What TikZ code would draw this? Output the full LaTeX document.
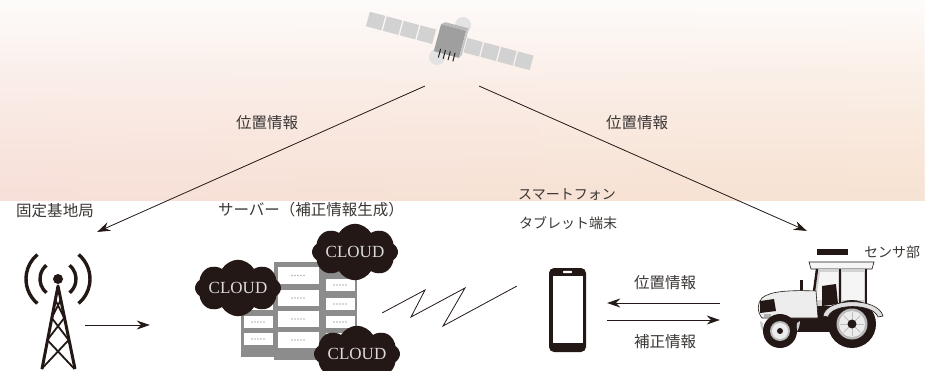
\documentclass[tikz,border=0pt]{standalone}
\usepackage{fontspec}
\setmainfont{Liberation Serif}
\newfontfamily\jpfont{Noto Sans CJK JP}
\usetikzlibrary{arrows.meta,shapes.symbols,fadings}
\definecolor{ink}{HTML}{231815}
\definecolor{txt}{HTML}{3A3634}
\definecolor{rackgray}{HTML}{8C8C8C}
\definecolor{panelgray}{HTML}{D2D2D2}
\definecolor{skytop}{HTML}{FEFCFB}
\definecolor{skylow}{HTML}{F9E7DE}
\definecolor{skypink}{HTML}{F6DAD4}
\definecolor{skypeach}{HTML}{F7E0C9}
\tikzfading[name=riseup, top color=transparent!100, bottom color=transparent!0]
\begin{document}
\begin{tikzpicture}[x=1pt,y=-1pt,
  lbl/.style={font=\jpfont\fontsize{15.5}{16}\selectfont, text=txt, inner sep=0pt},
  link/.style={draw=ink, line width=0.8pt, -{Stealth[length=13pt,width=9pt]}},
  plain/.style={draw=ink, line width=0.8pt},
  pt/.style={inner sep=0pt, minimum size=0pt},
  cloudbox/.style={cloud, cloud puffs=8, cloud puff arc=120, aspect=2.0, fill=ink, draw=none,
     inner sep=0pt, minimum width=86pt, minimum height=44pt, text=white!86!black,
     font=\fontsize{17}{17}\selectfont},
  slot/.style={fill=white, draw=none},
  tire/.style={fill=ink, draw=none},
]
\useasboundingbox (0,0) rectangle (925,371);

% sky band behind the satellite
\shade[top color=skytop, bottom color=skylow] (0,0) rectangle (925,201);
\shade[left color=skypink, right color=skypeach, path fading=riseup, opacity=0.55] (0,0) rectangle (925,201);

% satellite
\fill[gray!22] (463,25) circle (8);
\fill[gray!22] (437,57) circle (8);
\begin{scope}[shift={(450,41)}, rotate=-15]
  \foreach \i in {0,...,3} {
    \fill[panelgray] (-85+\i*17.5,-7.5) rectangle ++(16,15);
    \fill[panelgray] (16+\i*17.5,-7.5) rectangle ++(16,15);
  }
  \fill[gray!75] (-13,-14) rectangle (13,14);
  \fill[gray!55] (-13,-14) -- (-9,-17) -- (15,-17) -- (13,-14) -- cycle;
  \fill[gray!45] (13,-14) -- (15,-17) -- (15,11) -- (13,14) -- cycle;
  \foreach \x in {-7,-2,3,8} \draw[gray!30!black, line width=1pt] (\x,10) -- (\x,19);
\end{scope}

% points where the signal lines start and end
\node[pt] (satL) at (425,86) {};
\node[pt] (satR) at (479,86) {};
\node[pt] (baseIn) at (97,232) {};
\node[pt] (tracIn) at (807,231) {};
\draw[link] (satL) -- (baseIn);
\draw[link] (satR) -- (tracIn);
\node[lbl] (posL) at (267,123) {位置情報};
\node[lbl] (posR) at (637,123) {位置情報};

% labels
\node[lbl] (baseLbl) at (55,211) {固定基地局};
\node[lbl] (srvLbl) at (311,210) {サーバー（補正情報生成）};
\node[lbl, font=\jpfont\fontsize{14}{14}\selectfont] (smLbl) at (567,195) {スマートフォン};
\node[lbl, font=\jpfont\fontsize{14}{14}\selectfont] (tabLbl) at (568,223) {タブレット端末};

% base station tower
\fill[ink] (58,279) circle (5);
\foreach \r in {18,32} {
  \draw[ink, line width=3.4pt] (58,279) ++(130:\r) arc[start angle=130, end angle=230, radius=\r];
  \draw[ink, line width=3.4pt] (58,279) ++(-50:\r) arc[start angle=-50, end angle=50, radius=\r];
}
\draw[ink, line width=3pt, line join=round] (42,369) -- (58,286) -- (75,369);
\foreach \a/\b in {300/318, 318/340, 340/369} {
  \pgfmathsetmacro{\wa}{(\a-287)/82*16.5}
  \pgfmathsetmacro{\wb}{(\b-287)/82*16.5}
  \draw[ink, line width=1.8pt] (58-\wa,\a) -- (58+\wb,\b);
  \draw[ink, line width=1.8pt] (58+\wa,\a) -- (58-\wb,\b);
}
\node[pt] (towerOut) at (85,325) {};
\node[pt] (srvIn) at (150,325) {};
\draw[link] (towerOut) -- (srvIn);

% server racks
\fill[rackgray] (241,280) rectangle (277,357);
\fill[rackgray] (322,270) rectangle (357,356);
\foreach \y in {298,316,333} {
  \fill[slot] (244,\y) rectangle (273,\y+12);
  \foreach \k in {0,...,4} \fill[gray!60] (252+\k*3,\y+6) circle (0.8);
}
\foreach \y in {279,298,316,333} {
  \fill[slot] (326,\y) rectangle (355,\y+12);
  \foreach \k in {0,...,4} \fill[gray!60] (334+\k*3,\y+6) circle (0.8);
}
\fill[rackgray] (274,262) rectangle (323,360);
\foreach \y/\h in {267/17, 290/16, 311/16, 332/16} {
  \fill[slot] (278,\y) rectangle (319,\y+\h);
  \foreach \k in {0,...,4} \fill[gray!60] (292+\k*3,\y+\h/2) circle (0.8);
}
\node[cloudbox] (cloudA) at (355,252) {CLOUD};
\node[cloudbox, minimum height=47pt] (cloudB) at (238,288) {CLOUD};
\node[cloudbox] (cloudC) at (357,354) {CLOUD};

% radio link to the handset
\node[pt] (zigA) at (382,313) {};
\node[pt] (zigB) at (517,286) {};
\draw[plain, line join=miter] (zigA) -- (425,290) -- (411,317) -- (465,288) -- (443,326) -- (zigB);

% handset
\fill[ink, rounded corners=5pt] (549,268) rectangle (586,352);
\fill[white] (552.5,275.5) rectangle (583,343);
\fill[white, rounded corners=0.8pt] (563,270.8) rectangle (572,273.2);

% exchange between handset and tractor
\node[pt] (phR1) at (607,303) {};
\node[pt] (trL1) at (720,303) {};
\node[pt] (phR2) at (607,320) {};
\node[pt] (trL2) at (720,320) {};
\draw[link] (trL1) -- (phR1);
\draw[link] (phR2) -- (trL2);
\node[lbl] (posM) at (665,283) {位置情報};
\node[lbl] (corM) at (665,342) {補正情報};

% sensor unit and its label
\fill[ink] (817,249) rectangle (848,255);
\node[lbl, anchor=west, font=\jpfont\fontsize{14}{14}\selectfont] (sensLbl) at (864,252) {センサ部};

% tractor
% cab roof and frame
\fill[gray!8] (809,262) -- (874,262) -- (872,269) -- (811,269) -- cycle;
\draw[ink, line width=0.6pt] (809,262) -- (874,262) -- (872,269) -- (811,269) -- cycle;
\fill[gray!35] (816,269) -- (867,269) -- (867,306) -- (812,306) -- cycle;
\fill[white!92!gray] (820,272) -- (838,272) -- (838,300) -- (816,300) -- cycle;
\fill[white!92!gray] (842,272) -- (864,272) -- (864,300) -- (842,300) -- cycle;
\draw[ink, line width=2.4pt] (817,269) -- (812,306);
\draw[ink, line width=2pt] (840,269) -- (840,304);
\draw[ink, line width=2.6pt] (866,269) -- (866,308);
\fill[ink] (822,286) -- (836,284) -- (838,304) -- (822,306) -- cycle;
% exhaust stack
\fill[ink] (800,280) rectangle (803,297);
% chassis
\fill[ink] (790,306) rectangle (842,332);
% hood
\fill[gray!14] (762,298) .. controls (770,291) and (790,290) .. (816,291)
   -- (818,318) -- (762,318) .. controls (757,312) and (757,303) .. (762,298) -- cycle;
\draw[ink, line width=0.6pt] (762,298) .. controls (770,291) and (790,290) .. (816,291)
   -- (818,318) -- (762,318) .. controls (757,312) and (757,303) .. (762,298) -- cycle;
\fill[ink] (760,301) -- (774,299) -- (776,311) -- (760,313) -- cycle;
\fill[gray!60] (764,314) rectangle (771,317);
% front wheel with fender
\fill[gray!40] (760,321) arc[start angle=180, end angle=0, radius=20] -- (797,323) arc[start angle=0, end angle=180, radius=17] -- cycle;
\fill[tire] (780,331) circle (17);
\fill[gray!55] (780,331) circle (10);
\fill[white!85!gray] (780,331) circle (8);
\fill[ink] (780,331) circle (3);
% rear wheel with fender
\fill[tire] (852,324) circle (24);
\fill[gray!55] (852,324) circle (15.5);
\fill[white!85!gray] (852,324) circle (13);
\foreach \a in {0,45,...,315} \draw[gray!50, line width=0.8pt] (852,324) -- ++(\a:12);
\fill[ink] (852,324) circle (4.5);
\fill[gray!25] (823,316) .. controls (826,297) and (878,297) .. (883,316)
   -- (878,317) .. controls (873,303) and (832,303) .. (828,317) -- cycle;
\draw[ink, line width=0.6pt] (823,316) .. controls (826,297) and (878,297) .. (883,316)
   -- (878,317) .. controls (873,303) and (832,303) .. (828,317) -- cycle;
\end{tikzpicture}
\end{document}
